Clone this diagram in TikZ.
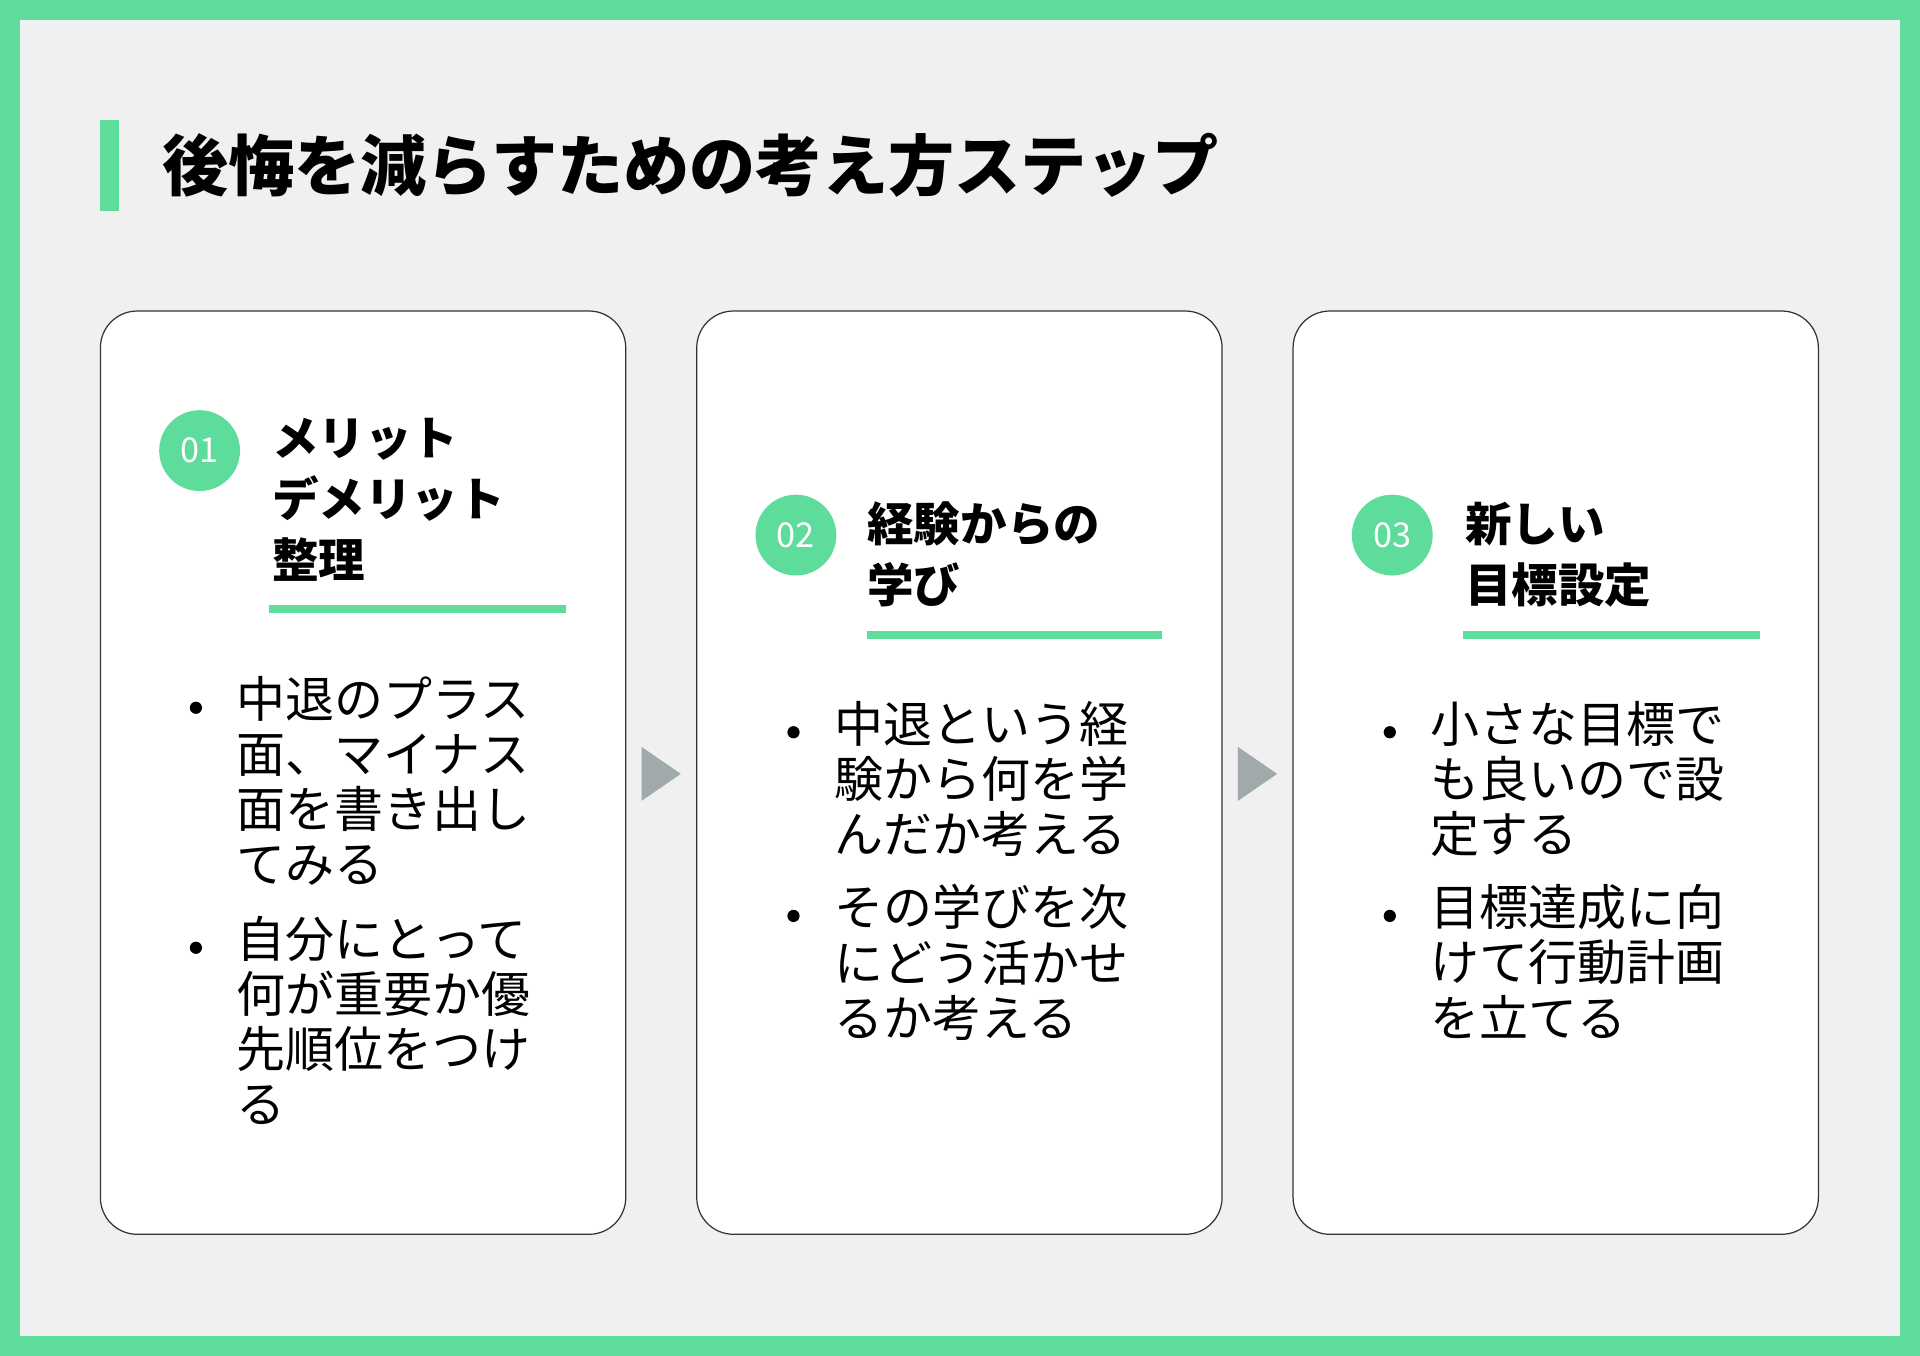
\documentclass[tikz,border=0pt]{standalone}
\usepackage{fontspec}
\setmainfont{Noto Sans CJK JP}
\definecolor{grn}{HTML}{5EDC9C}
\definecolor{bg}{HTML}{F0F0F0}
\definecolor{arr}{HTML}{A0AAAA}
\tikzset{
 card/.style={draw=black!80,line width=0.5pt,fill=white,rounded corners=15pt},
 num/.style={circle,fill=grn,minimum size=33pt,inner sep=0pt,text=white,font=\fontsize{14}{14}\selectfont},
 head/.style={anchor=west,align=left,inner sep=0pt,font=\bfseries\fontsize{19}{25}\selectfont},
 body/.style={anchor=north west,align=left,inner sep=0pt,font=\fontsize{20}{22.5}\selectfont},
 dot/.style={circle,fill=black,inner sep=0pt,minimum size=5pt},
 tri/.style={fill=arr}
}
\begin{document}
\begin{tikzpicture}[x=0.5pt,y=-0.5pt]
\fill[grn] (0,0) rectangle (1568,1107);
\fill[bg] (16,16) rectangle (1552,1091);
\useasboundingbox (0,0) rectangle (1568,1107);
\fill[grn] (82,98) rectangle (97,172);
\node[anchor=west,inner sep=0pt,font=\bfseries\fontsize{27}{27}\selectfont] (title) at (132,135) {後悔を減らすための考え方ステップ};
% cards
\draw[card] (82,254) rectangle (511,1008);
\draw[card] (569,254) rectangle (998,1008);
\draw[card] (1056,254) rectangle (1485,1008);
% arrows
\fill[tri] (524,610) -- (556,632) -- (524,654) -- cycle;
\fill[tri] (1011,610) -- (1043,632) -- (1011,654) -- cycle;
% card 1
\node[num] (n1) at (163,368) {01};
\node[head] (h1) at (222,408) {メリット\\デメリット\\整理};
\fill[grn] (220,494) rectangle (462,501);
\node[dot] (d1a) at (160,578) {};
\node[body] (b1a) at (193,552) {中退のプラス\\面、マイナス\\面を書き出し\\てみる};
\node[dot] (d1b) at (160,774) {};
\node[body] (b1b) at (193,748) {自分にとって\\何が重要か優\\先順位をつけ\\る};
% card 2
\node[num] (n2) at (650,437) {02};
\node[head] (h2) at (708,453) {経験からの\\学び};
\fill[grn] (708,515) rectangle (949,522);
\node[dot] (d2a) at (648,598) {};
\node[body] (b2a) at (681,572) {中退という経\\験から何を学\\んだか考える};
\node[dot] (d2b) at (648,748) {};
\node[body] (b2b) at (681,722) {その学びを次\\にどう活かせ\\るか考える};
% card 3
\node[num] (n3) at (1137,437) {03};
\node[head] (h3) at (1196,453) {新しい\\目標設定};
\fill[grn] (1195,515) rectangle (1437,522);
\node[dot] (d3a) at (1135,598) {};
\node[body] (b3a) at (1168,572) {小さな目標で\\も良いので設\\定する};
\node[dot] (d3b) at (1135,748) {};
\node[body] (b3b) at (1168,722) {目標達成に向\\けて行動計画\\を立てる};
\end{tikzpicture}
\end{document}
